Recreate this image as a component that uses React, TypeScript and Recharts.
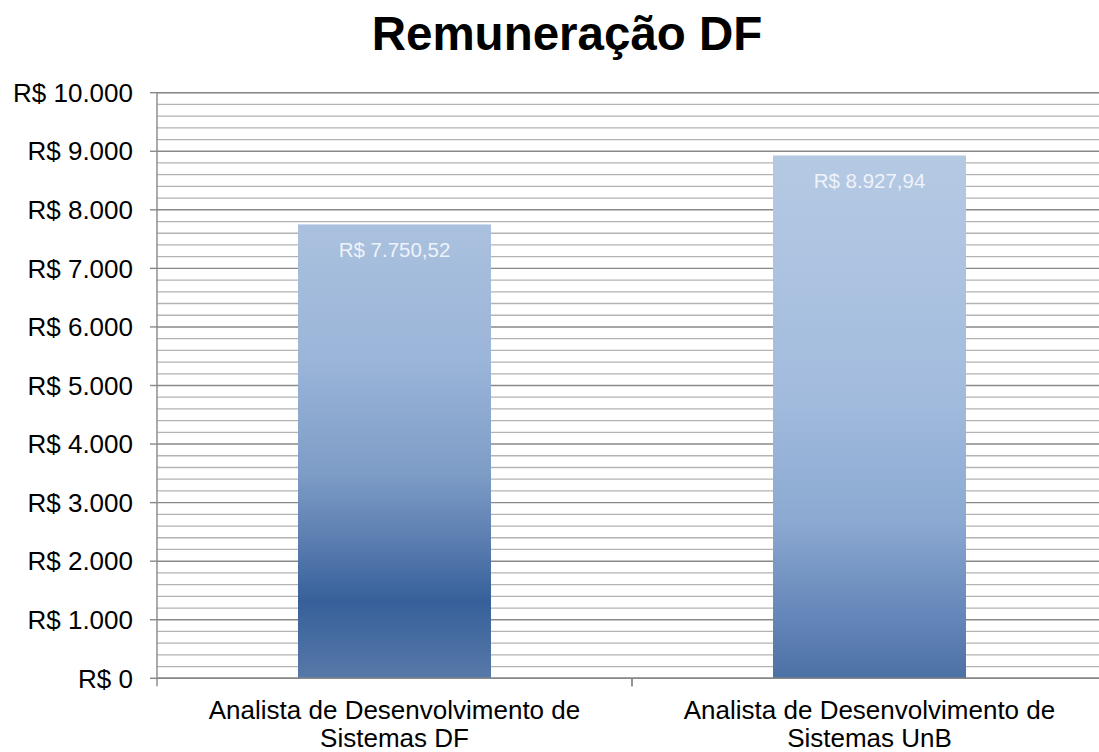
import React from "react";
import {
  BarChart,
  Bar,
  XAxis,
  YAxis,
  CartesianGrid,
  LabelList,
} from "recharts";

const title = "Remuneração DF";
const categoryLines: string[][] = [
  ["Analista de Desenvolvimento de", "Sistemas DF"],
  ["Analista de Desenvolvimento de", "Sistemas UnB"],
];
const categoryKeys = ["DF", "UnB"];
const salaries = [7750.52, 8927.94];
const majorTicks = [0, 1000, 2000, 3000, 4000, 5000, 6000, 7000, 8000, 9000, 10000];
const minorTicks = [
  200, 400, 600, 800, 1200, 1400, 1600, 1800, 2200, 2400, 2600, 2800,
  3200, 3400, 3600, 3800, 4200, 4400, 4600, 4800, 5200, 5400, 5600, 5800,
  6200, 6400, 6600, 6800, 7200, 7400, 7600, 7800, 8200, 8400, 8600, 8800,
  9200, 9400, 9600, 9800,
];

const data = categoryKeys.map((k, i) => ({ key: k, value: salaries[i] }));

const FONT = "'Liberation Sans', Arial, sans-serif";

function groupThousands(s: string) {
  return s.replace(/\B(?=(\d{3})+(?!\d))/g, ".");
}
function fmtAxis(v: number) {
  return "R$ " + groupThousands(String(Math.round(v)));
}
function fmtMoney(v: number) {
  const [i, d] = v.toFixed(2).split(".");
  return "R$ " + groupThousands(i) + "," + d;
}

const CatTick = (props: any) => {
  const { x, y, index, payload } = props;
  const lines = categoryLines[index] || [];
  const half = Number(payload?.offset);
  const hasHalf = Number.isFinite(half) && half > 0;
  return (
    <g>
      {hasHalf && (
        <line x1={x - half} y1={y} x2={x - half} y2={y + 8} stroke="#888888" strokeWidth={1.4} />
      )}
      {hasHalf && (
        <line x1={x + half} y1={y} x2={x + half} y2={y + 8} stroke="#888888" strokeWidth={1.4} />
      )}
      <text x={x} y={y} textAnchor="middle" fontFamily={FONT} fontSize={26} fill="#000">
        {lines.map((l, i) => (
          <tspan key={i} x={x} dy={i === 0 ? 41 : 27.5}>
            {l}
          </tspan>
        ))}
      </text>
    </g>
  );
};

const ValueLabel = (props: any) => {
  const { x, y, width, value } = props;
  return (
    <text
      x={Number(x) + Number(width) / 2}
      y={Number(y) + 33}
      textAnchor="middle"
      fontFamily={FONT}
      fontSize={20.5}
      fill="#eef3f9"
    >
      {fmtMoney(Number(value))}
    </text>
  );
};

export default function App() {
  return (
    <div
      style={{
        position: "absolute",
        left: 0,
        top: 0,
        width: 1099,
        height: 752,
        overflow: "hidden",
        background: "#fff",
      }}
    >
      <BarChart
        width={1112}
        height={752}
        data={data}
        margin={{ top: 92.7, right: 5, bottom: 0, left: 0 }}
        style={{ fontFamily: FONT }}
      >
        <defs>
          <linearGradient id="g0" x1="0" y1="0" x2="0" y2="1">
            <stop offset="0" stopColor="#aac1de" />
            <stop offset="0.3" stopColor="#9bb5d9" />
            <stop offset="0.55" stopColor="#7d9cc6" />
            <stop offset="0.7" stopColor="#5a7db0" />
            <stop offset="0.83" stopColor="#37609a" />
            <stop offset="1" stopColor="#5779a8" />
          </linearGradient>
          <linearGradient id="g1" x1="0" y1="0" x2="0" y2="1">
            <stop offset="0" stopColor="#b5c9e3" />
            <stop offset="0.45" stopColor="#a3bcde" />
            <stop offset="0.7" stopColor="#8ba9d1" />
            <stop offset="0.87" stopColor="#6788ba" />
            <stop offset="1" stopColor="#4c71a4" />
          </linearGradient>
        </defs>
        <CartesianGrid
          vertical={false}
          yAxisId="minor"
          stroke="#b3b3b3"
          strokeWidth={1.3}
        />
        <CartesianGrid
          vertical={false}
          horizontalValues={majorTicks}
          stroke="#888888"
          strokeWidth={1.4}
        />
        <XAxis
          dataKey="key"
          height={73.7}
          tickLine={false}
          tickSize={0}
          tickMargin={0}
          axisLine={{ stroke: "#888888", strokeWidth: 1.4 }}
          tick={<CatTick />}
          interval={0}
        />
        <YAxis
          yAxisId="minor"
          hide
          domain={[0, 10000]}
          ticks={minorTicks}
          interval={0}
          allowDataOverflow
        />
        <YAxis
          width={157}
          domain={[0, 10000]}
          ticks={majorTicks}
          interval={0}
          tickFormatter={fmtAxis}
          tickSize={7}
          tickMargin={17}
          axisLine={{ stroke: "#888888", strokeWidth: 1.4 }}
          tickLine={{ stroke: "#888888", strokeWidth: 1.4 }}
          tick={{ fill: "#000", fontSize: 26, fontFamily: FONT }}
          allowDataOverflow
        />
        <Bar
          dataKey="value"
          barSize={193}
          isAnimationActive={false}
          shape={(p: any) => (
            <rect
              x={p.x}
              y={p.y}
              width={p.width}
              height={p.height}
              fill={`url(#g${p.index})`}
            />
          )}
        >
          <LabelList dataKey="value" content={<ValueLabel />} />
        </Bar>
      </BarChart>
      <svg
        width={1099}
        height={80}
        style={{ position: "absolute", left: 0, top: 0, pointerEvents: "none" }}
      >
        <text
          x={567}
          y={50}
          textAnchor="middle"
          fontFamily={FONT}
          fontWeight="bold"
          fontSize={47.5}
          fill="#000"
        >
          {title}
        </text>
      </svg>
    </div>
  );
}
